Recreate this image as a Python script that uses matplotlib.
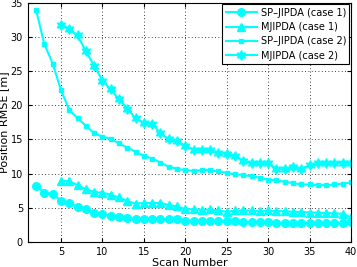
import matplotlib
matplotlib.use("Agg")
import matplotlib.pyplot as plt

scans_a = list(range(2, 41))
scans_b = list(range(5, 41))

sp_case1 = [8.2, 7.2, 7.0, 6.0, 5.7, 5.1, 4.8, 4.3, 4.1, 3.8, 3.7, 3.45,
            3.4, 3.4, 3.4, 3.4, 3.3, 3.3, 3.1, 3.1, 3.0, 3.0, 3.0, 3.0, 3.0,
            2.9, 2.9, 2.85, 2.85, 2.8, 2.8, 2.8, 2.8, 2.8, 2.8, 2.8, 2.8, 2.8, 2.9]
mj_case1 = [8.9, 8.9, 8.3, 7.7, 7.3, 7.2, 6.9, 6.5, 6.0,
            5.6, 5.7, 5.7, 5.7, 5.4, 5.2, 4.8, 4.75, 4.7, 4.75, 4.6, 4.4, 4.6,
            4.6, 4.6, 4.5, 4.6, 4.5, 4.5, 4.4, 4.4, 4.3, 4.3, 4.2, 4.2, 4.1, 3.6]
sp_case2 = [33.9, 28.9, 26.1, 22.2, 19.3, 18.1, 17.0, 15.9, 15.4, 15.1, 14.4,
            13.8, 13.2, 12.6, 12.2, 11.6, 11.0, 10.7, 10.5, 10.4, 10.5, 10.5,
            10.3, 10.1, 9.9, 9.8, 9.6, 9.4, 9.1, 9.0, 8.8, 8.6, 8.4, 8.4, 8.3,
            8.3, 8.4, 8.5, 8.7]
mj_case2 = [31.8, 31.1, 30.2, 27.9, 25.8, 23.6, 22.3, 20.9, 19.5, 18.1, 17.4,
            17.3, 15.9, 15.0, 14.7, 14.1, 13.5, 13.4, 13.5, 13.0, 12.9, 12.6,
            11.9, 11.5, 11.5, 11.5, 10.7, 10.6, 11.0, 10.7, 11.2, 11.5, 11.6,
            11.5, 11.6, 11.6]

labels = ["SP\u2013JIPDA (case 1)", "MJIPDA (case 1)",
          "SP\u2013JIPDA (case 2)", "MJIPDA (case 2)"]

cyan = "#00FFFF"
fig = plt.figure(figsize=(3.57, 2.67), dpi=100)
ax = fig.add_axes([0.078, 0.094, 0.905, 0.896])

ax.plot(scans_a, sp_case1, color=cyan, lw=1.5, marker='o', ms=5.5,
        mfc=cyan, mec=cyan, label=labels[0])
ax.plot(scans_b, mj_case1, color=cyan, lw=1.5, marker='^', ms=6,
        mfc=cyan, mec=cyan, label=labels[1])
ax.plot(scans_a, sp_case2, color=cyan, lw=1.5, marker='s', ms=3.5,
        mfc=cyan, mec=cyan, label=labels[2])
ax.plot(scans_b, mj_case2, color=cyan, lw=1.5, marker=(6, 1, 0), ms=7,
        mfc=cyan, mec=cyan, label=labels[3])

ax.set_xlim(1, 40)
ax.set_ylim(0, 35)
ax.set_xticks([5, 10, 15, 20, 25, 30, 35, 40])
ax.set_yticks([0, 5, 10, 15, 20, 25, 30, 35])
ax.tick_params(direction='in', labelsize=7, length=3, top=True, right=True)
ax.grid(True, color='black', linestyle=(0, (1, 3)), linewidth=0.6)
ax.set_xlabel("Scan Number", fontsize=8, labelpad=1)
ax.set_ylabel("Position RMSE [m]", fontsize=8, labelpad=1)
for s in ax.spines.values():
    s.set_linewidth(0.8)

leg = ax.legend(loc='upper right', fontsize=7, frameon=True, fancybox=False,
                edgecolor='black', framealpha=1, borderpad=0.35,
                labelspacing=0.45, handlelength=3.2, handletextpad=0.4,
                borderaxespad=0.15)
leg.get_frame().set_linewidth(0.8)

fig.savefig("out.png", dpi=100)
